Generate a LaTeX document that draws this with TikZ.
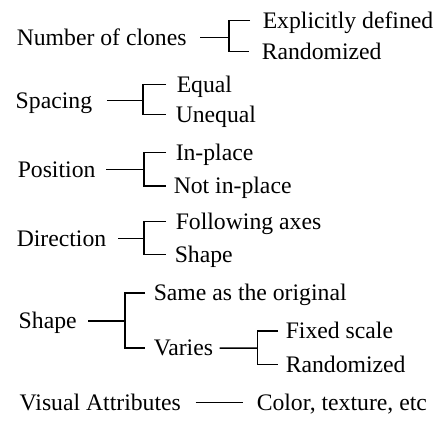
\documentclass[tikz,border=0pt]{standalone}
\usepackage{fontspec}
\setmainfont{Liberation Serif}
\usepackage{tikz}
\usetikzlibrary{calc}

\begin{document}
\begin{tikzpicture}[x=1pt,y=-1pt,line width=1.5pt,
  every node/.style={font=\fontsize{23.7}{26}\selectfont,inner sep=0pt,anchor=west,text height=15.5pt,text depth=0pt}]
  \useasboundingbox (0,0) rectangle (437,422);
  % number of clones
  \node (num) at (16,37.5) {Number of clones};
  \node (expl) at (262,20.5) {Explicitly defined};
  \node (rand1) at (261,51.5) {Randomized};
  \coordinate (fnum) at (229,37.5);
  \draw[shorten <=13pt] (num.east) -- (fnum);
  \draw ([xshift=-12pt]expl.west) -| (fnum) |- ([xshift=-12pt]rand1.west);
  % spacing
  \node (spc) at (15,100.7) {Spacing};
  \node (eq) at (176,84.7) {Equal};
  \node (uneq) at (175,114.7) {Unequal};
  \coordinate (fspc) at (143,100.7);
  \draw[shorten <=14pt] (spc.east) -- (fspc);
  \draw ([xshift=-10pt]eq.west) -| (fspc) |- ([xshift=-9pt]uneq.west);
  % position
  \node (pos) at (17,169.3) {Position};
  \node (inpl) at (175,152.5) {In-place};
  \node (notinpl) at (173,186) {Not in-place};
  \coordinate (fpos) at (144,169.3);
  \draw[shorten <=10pt] (pos.east) -- (fpos);
  \draw ([xshift=-9pt]inpl.west) -| (fpos) |- ([xshift=-7pt]notinpl.west);
  % direction
  \node (dir) at (16,238.3) {Direction};
  \node (axes) at (175,221.5) {Following axes};
  \node (shp1) at (174,254.7) {Shape};
  \coordinate (fdir) at (144,238.3);
  \draw[shorten <=11pt] (dir.east) -- (fdir);
  \draw ([xshift=-9pt]axes.west) -| (fdir) |- ([xshift=-8pt]shp1.west);
  % shape
  \node (shp2) at (18,321) {Shape};
  \node (same) at (153,293) {Same as the original};
  \node (var) at (153,348) {Varies};
  \coordinate (fshp) at (125,321);
  \draw[shorten <=11pt] (shp2.east) -- (fshp);
  \draw ([xshift=-8pt]same.west) -| (fshp) |- ([xshift=-8pt]var.west);
  \node (fix) at (285,331) {Fixed scale};
  \node (rand2) at (285,364.4) {Randomized};
  \coordinate (fvar) at (257.7,348.2);
  \draw[shorten <=6pt] (var.east) -- (fvar);
  \draw ([xshift=-7pt]fix.west) -| (fvar) |- ([xshift=-7pt]rand2.west);
  % visual attributes
  \node (vis) at (19,402.3) {Visual Attributes};
  \node (col) at (256,402.3) {Color, texture, etc};
  \draw[shorten <=14pt,shorten >=13pt] (vis.east) -- (col.west);
\end{tikzpicture}
\end{document}
